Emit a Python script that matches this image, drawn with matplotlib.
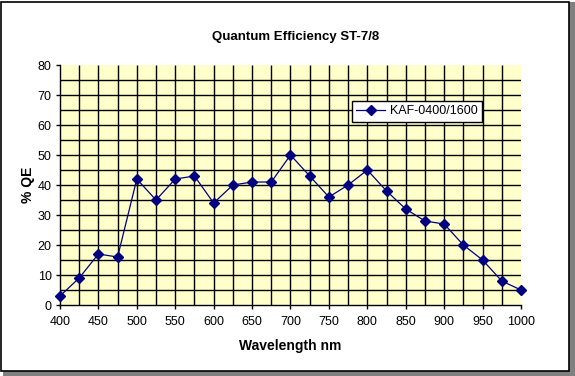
import numpy as np
import matplotlib.pyplot as plt
from matplotlib.patches import Rectangle

plt.rcParams['font.family'] = ['Liberation Sans', 'DejaVu Sans']

wavelength = [400, 425, 450, 475, 500, 525, 550, 575, 600, 625, 650, 675, 700,
              725, 750, 775, 800, 825, 850, 875, 900, 925, 950, 975, 1000]
qe = [3, 9, 17, 16, 42, 35, 42, 43, 34, 40, 41, 41, 50,
      43, 36, 40, 45, 38, 32, 28, 27, 20, 15, 8, 5]
series_name = 'KAF-0400/1600'

fig = plt.figure(figsize=(5.75, 3.76), dpi=100)
fig.patch.set_facecolor('white')

# chart border with shadow
fig.patches.append(Rectangle((0.006, 0.0), 0.994, 0.012, transform=fig.transFigure,
                             facecolor='#808080', edgecolor='none', zorder=-3))
fig.patches.append(Rectangle((0.990, 0.0), 0.010, 0.995, transform=fig.transFigure,
                             facecolor='#808080', edgecolor='none', zorder=-3))
fig.patches.append(Rectangle((0.002, 0.014), 0.988, 0.982, transform=fig.transFigure,
                             facecolor='white', edgecolor='black', linewidth=1.2, zorder=-2))

ax = fig.add_axes([0.1043, 0.1888, 0.8018, 0.6383])
ax.set_zorder(1)
ax.set_facecolor('#FFFFCC')

# gridlines: every 25 nm and every 5 % (edges left open like the original)
ax.vlines(np.arange(425, 1000, 25), 0, 80, colors='black', linewidth=1.0, zorder=1)
ax.hlines(np.arange(5, 80, 5), 400, 1000, colors='black', linewidth=1.0, zorder=1)

ax.plot(wavelength, qe, color='#000080', linewidth=0.9, marker='D', markersize=4.8,
        markerfacecolor='#000080', markeredgecolor='#000080', label=series_name, zorder=3,
        clip_on=False)

ax.set_xlim(400, 1000)
ax.set_ylim(0, 80)
ax.set_xticks(np.arange(400, 1001, 50))
ax.set_yticks(np.arange(0, 81, 10))
ax.tick_params(which='major', direction='out', length=3, width=1, labelsize=9)
ax.tick_params(axis='x', pad=5)
ax.tick_params(axis='y', pad=3)

ax.spines['top'].set_visible(False)
ax.spines['right'].set_visible(False)
ax.spines['left'].set_linewidth(1.0)
ax.spines['bottom'].set_linewidth(1.0)

ax.set_title('Quantum Efficiency ST-7/8', fontsize=9.5, fontweight='bold', pad=18, x=0.51)
ax.set_xlabel('Wavelength nm', fontsize=10, fontweight='bold', labelpad=8)
ax.set_ylabel('% QE', fontsize=10, fontweight='bold', labelpad=2)

leg = ax.legend(loc='upper left', bbox_to_anchor=(0.633, 0.85), fontsize=9,
                frameon=True, fancybox=False, framealpha=1, edgecolor='black',
                borderpad=0.35, handlelength=2.3, handletextpad=0.4,
                borderaxespad=0)
leg.get_frame().set_linewidth(1.0)

fig.savefig('out.png', dpi=100)
